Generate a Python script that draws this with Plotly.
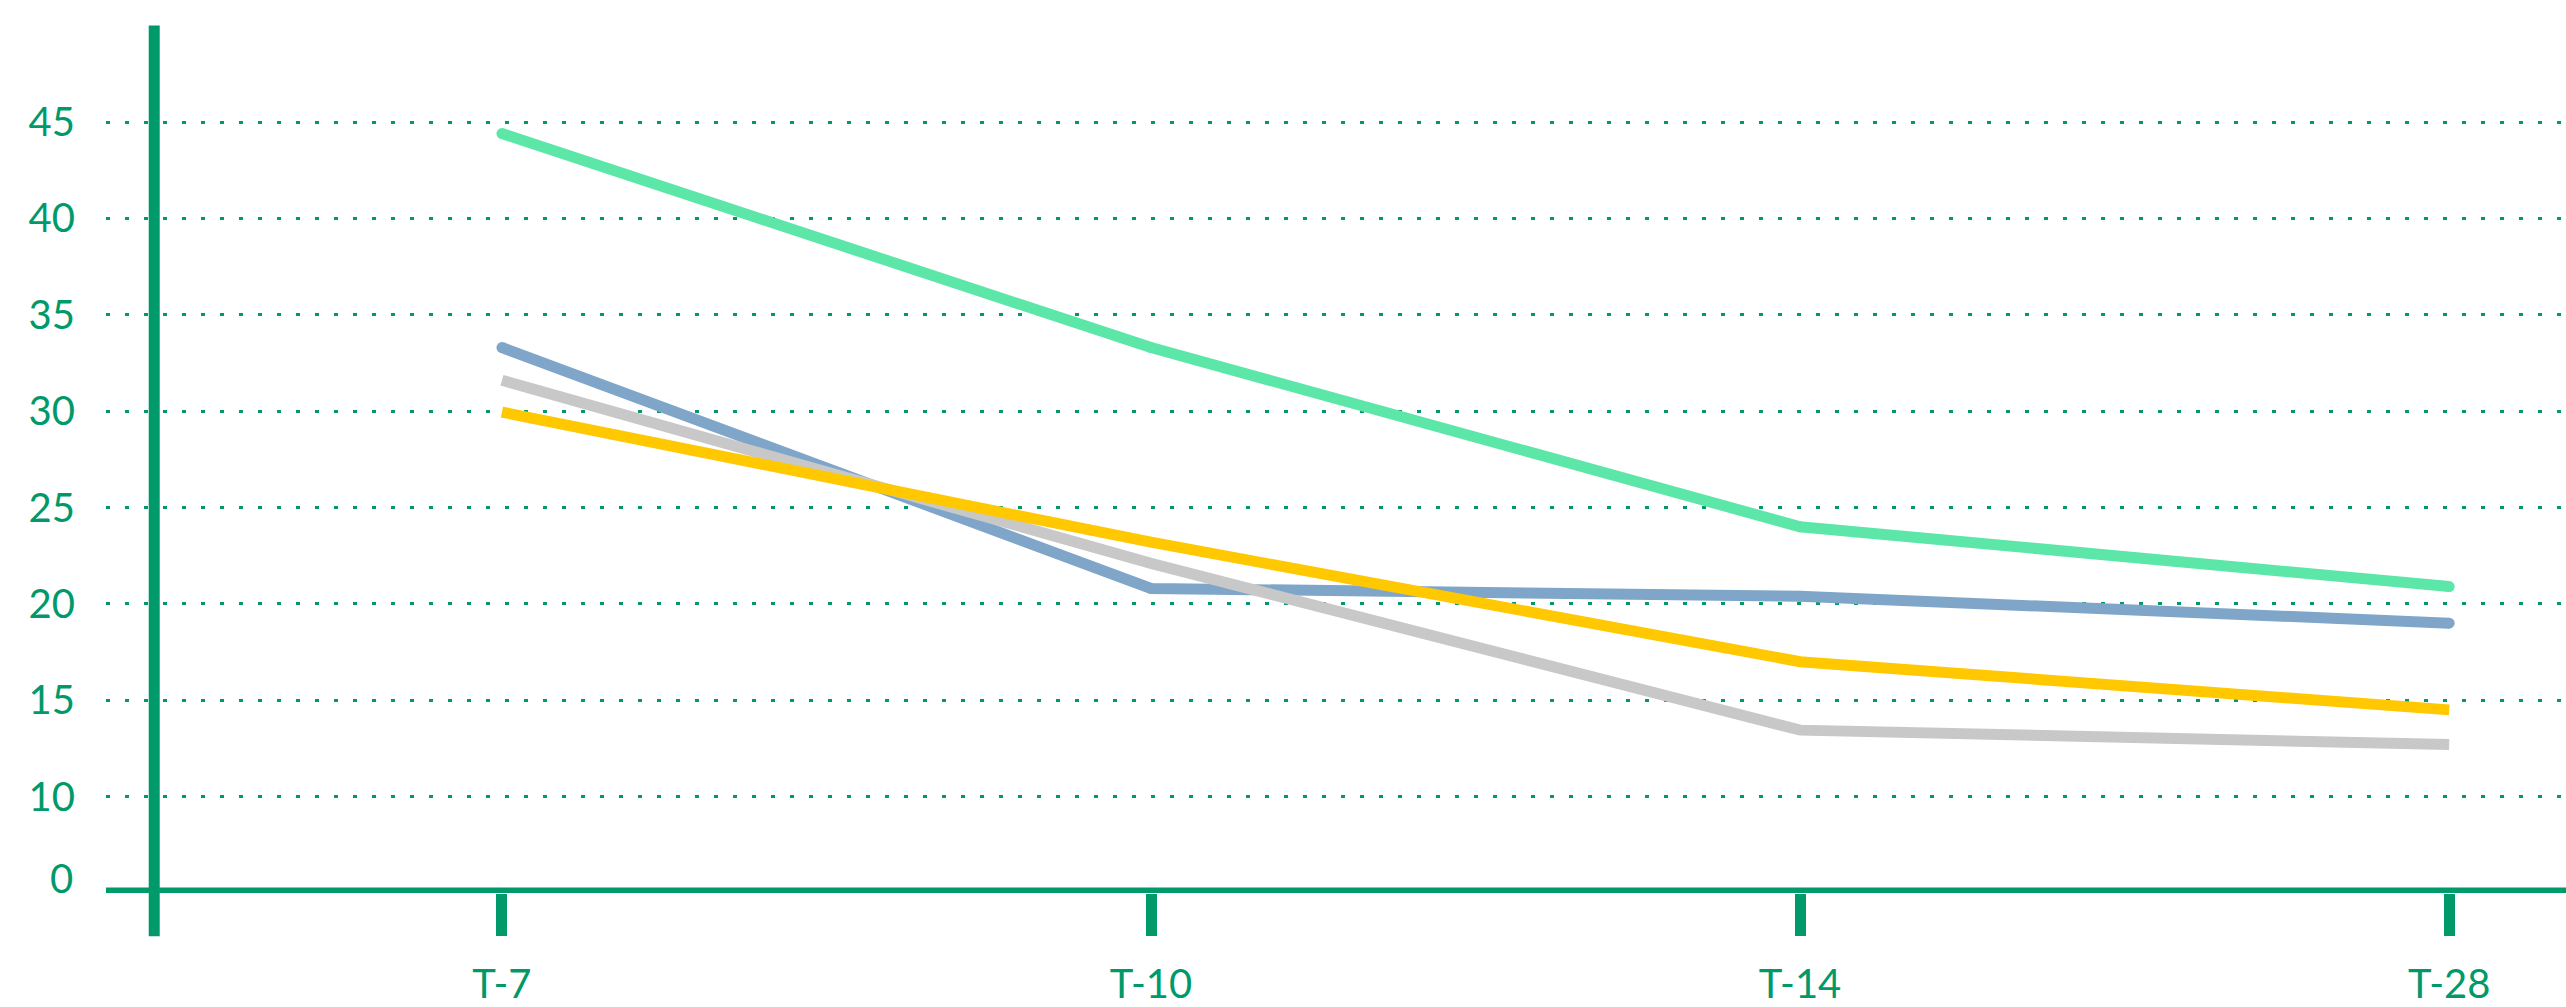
import plotly.graph_objects as go

categories = ["T-7", "T-10", "T-14", "T-28"]
blue_values = [33.3, 20.8, 20.4, 19.0]
gray_values = [31.6, 22.1, 13.45, 12.7]
yellow_values = [29.95, 23.2, 17.0, 14.5]
green_values = [44.4, 33.3, 24.0, 20.9]
y_tick_values = [10, 15, 20, 25, 30, 35, 40, 45]
y_tick_labels = ["10", "15", "20", "25", "30", "35", "40", "45"]
baseline_value = 5
baseline_label = "0"

AXIS = "#00996A"
FONT = "Lato, 'Open Sans', sans-serif"

fig = go.Figure()

series = [
    (blue_values, "#7FA6C8", True),
    (gray_values, "#C8C8C8", False),
    (yellow_values, "#FFC800", False),
    (green_values, "#5CE6A8", True),
]
for vals, col, rounded in series:
    fig.add_trace(go.Scatter(
        x=categories, y=vals,
        mode="lines+markers" if rounded else "lines",
        line=dict(color=col, width=11),
        marker=dict(color=col, size=11, line=dict(width=0)),
        hoverinfo="skip", showlegend=False,
    ))

fig.update_layout(
    width=2566, height=1007,
    margin=dict(l=106, r=0, t=0, b=99),
    paper_bgcolor="white", plot_bgcolor="white",
    font=dict(family=FONT, color=AXIS, size=40),
    xaxis=dict(
        type="category",
        range=[-0.61, 3.18],
        showgrid=False, zeroline=False, showline=False,
        ticks="outside", ticklen=42, tickwidth=11, tickcolor=AXIS,
        tickfont=dict(family=FONT, size=40, color=AXIS),
        ticklabelstandoff=14,
    ),
    yaxis=dict(
        range=[baseline_value, 51.33],
        tickvals=y_tick_values, ticktext=y_tick_labels,
        showgrid=True, gridcolor=AXIS, gridwidth=3, griddash="4px,15px",
        zeroline=False, showline=False, ticks="",
        tickfont=dict(family=FONT, size=40, color=AXIS),
        ticklabelstandoff=30,
    ),
    shapes=[
        # horizontal baseline axis
        dict(type="line", xref="paper", yref="y", x0=0.0, x1=1,
             y0=baseline_value, y1=baseline_value,
             line=dict(color=AXIS, width=11), layer="above"),
        # vertical axis
        dict(type="line", xref="paper", yref="paper", x0=0.0196, x1=0.0196,
             y0=-0.0485, y1=0.9714, line=dict(color=AXIS, width=11), layer="above"),
    ],
    annotations=[
        dict(text=baseline_label, xref="paper", yref="y", x=-0.0126, y=baseline_value,
             xanchor="right", yanchor="middle", yshift=15, showarrow=False,
             font=dict(family=FONT, size=40, color=AXIS)),
    ],
)

post = ("document.documentElement.style.margin='0';"
        "document.body.style.margin='0';"
        "document.body.style.overflow='hidden';"
        "document.documentElement.style.overflow='hidden';")
fig.write_html("out.html", config={"displayModeBar": False}, post_script=post)
